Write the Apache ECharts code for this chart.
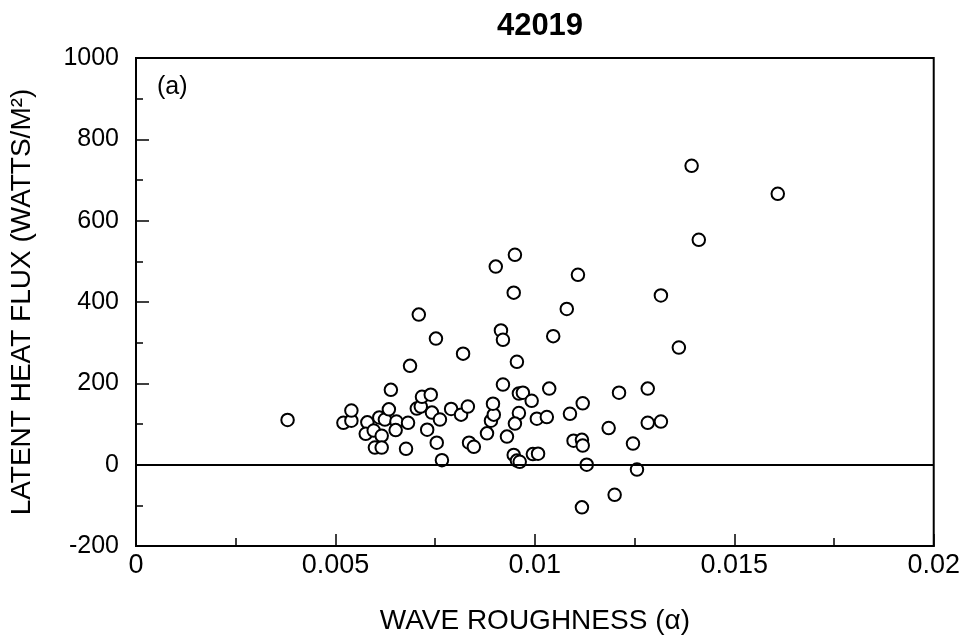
<!DOCTYPE html>
<html>
<head>
<meta charset="utf-8">
<script src="https://cdn.jsdelivr.net/npm/echarts@6/dist/echarts.min.js"></script>
<style>
html,body{margin:0;padding:0;background:#fff;}
#chart{width:963px;height:642px;}
</style>
</head>
<body>
<div id="chart"></div>
<script>
// Wave roughness (alpha) values
var roughness = [
  0.0038, 0.0052, 0.0054, 0.0054, 0.0058, 0.00576, 0.00596, 0.0061, 0.00624, 0.00616,
  0.00599, 0.00616, 0.00634, 0.00639, 0.00653, 0.00651, 0.00682, 0.00677, 0.00687, 0.00709,
  0.00704, 0.00714, 0.00717, 0.00739, 0.00742, 0.0073, 0.00762, 0.00752, 0.00754, 0.00767,
  0.0079, 0.00815, 0.0082, 0.00832, 0.00835, 0.00847, 0.0088, 0.0089, 0.00897, 0.00895,
  0.00902, 0.00915, 0.0092, 0.0092, 0.0093, 0.0095, 0.00947, 0.00955, 0.0096, 0.0097,
  0.00992, 0.0096, 0.0095, 0.00947, 0.00955, 0.00962, 0.00995, 0.01008, 0.01005, 0.0103,
  0.01036, 0.01046, 0.0108, 0.01108, 0.01088, 0.0112, 0.01097, 0.01118, 0.0112, 0.0113,
  0.01118, 0.012, 0.01185, 0.01211, 0.01246, 0.01256, 0.01283, 0.01283, 0.01316, 0.01316,
  0.01361, 0.01393, 0.01411, 0.01609
];
// Latent heat flux (W/m^2) values
var latentFlux = [
  110, 103, 108, 133, 104, 76, 84, 116, 111, 71,
  42, 42, 136, 184, 106, 85, 103, 39, 243, 369,
  138, 143, 167, 172, 128, 86, 111, 310, 54, 11,
  137, 123, 273, 143, 54, 44, 77, 108, 123, 150,
  487, 330, 307, 197, 69, 516, 423, 253, 175, 177,
  157, 127, 101, 24, 10, 7, 26, 27, 113, 117,
  187, 316, 383, 467, 125, 151, 59, 61, 47, 0,
  -105, -74, 90, 177, 52, -12, 187, 103, 106, 416,
  288, 735, 553, 666
];
var xTicks = [0, 0.005, 0.01, 0.015, 0.02];
var yTicks = [-200, 0, 200, 400, 600, 800, 1000];
var zeroLine = [0];

var points = roughness.map(function (x, i) { return [x, latentFlux[i]]; });

var chart = echarts.init(document.getElementById('chart'), null, {renderer: 'canvas'});
var font = 'Liberation Sans, Arial, Helvetica, sans-serif';
chart.setOption({
  backgroundColor: '#ffffff',
  animation: false,
  title: {
    text: '42019',
    left: 535, top: 6, textAlign: 'center',
    textStyle: {fontFamily: font, fontSize: 31, fontWeight: 'bold', color: '#000'}
  },
  grid: {left: 136, right: 29, top: 58, bottom: 96, show: true, borderColor: '#000', borderWidth: 2},
  graphic: [{
    type: 'text', left: 157, top: 75,
    style: {text: '(a)', font: '25px ' + font, fill: '#000'}
  }],
  xAxis: {
    type: 'value', min: xTicks[0], max: xTicks[xTicks.length - 1], interval: 0.005,
    name: 'WAVE ROUGHNESS (α)', nameLocation: 'middle', nameGap: 61,
    nameTextStyle: {fontFamily: font, fontSize: 28, color: '#000'},
    axisLine: {onZero: false, lineStyle: {color: '#000', width: 2}},
    axisTick: {inside: true, length: 12, lineStyle: {color: '#000', width: 1.5}},
    minorTick: {show: true, splitNumber: 2, length: 8, lineStyle: {color: '#000', width: 1.5}},
    axisLabel: {fontFamily: font, fontSize: 27, color: '#000', margin: 6,
      formatter: function (v) { return String(v); }},
    splitLine: {show: false}
  },
  yAxis: {
    type: 'value', min: yTicks[0], max: yTicks[yTicks.length - 1], interval: 200,
    name: 'LATENT HEAT FLUX (WATTS/M²)', nameLocation: 'middle', nameGap: 100,
    nameTextStyle: {fontFamily: font, fontSize: 28, color: '#000'},
    axisLine: {onZero: false, lineStyle: {color: '#000', width: 2}},
    axisTick: {inside: true, length: 13, lineStyle: {color: '#000', width: 1.5}},
    minorTick: {show: true, splitNumber: 2, length: 7, lineStyle: {color: '#000', width: 1.5}},
    axisLabel: {fontFamily: font, fontSize: 25, color: '#000', margin: 17,
      formatter: function (v) { return String(v); }},
    splitLine: {show: false}
  },
  series: [{
    type: 'scatter',
    data: points,
    symbol: 'emptyCircle',
    symbolSize: 12.5,
    itemStyle: {color: '#000', borderColor: '#000', borderWidth: 1.7, opacity: 1},
    markLine: {
      silent: true, symbol: ['none', 'none'],
      label: {show: false},
      lineStyle: {color: '#000', width: 2, type: 'solid'},
      data: zeroLine.map(function (v) { return {yAxis: v}; })
    },
    z: 3
  }]
});
</script>
</body>
</html>
